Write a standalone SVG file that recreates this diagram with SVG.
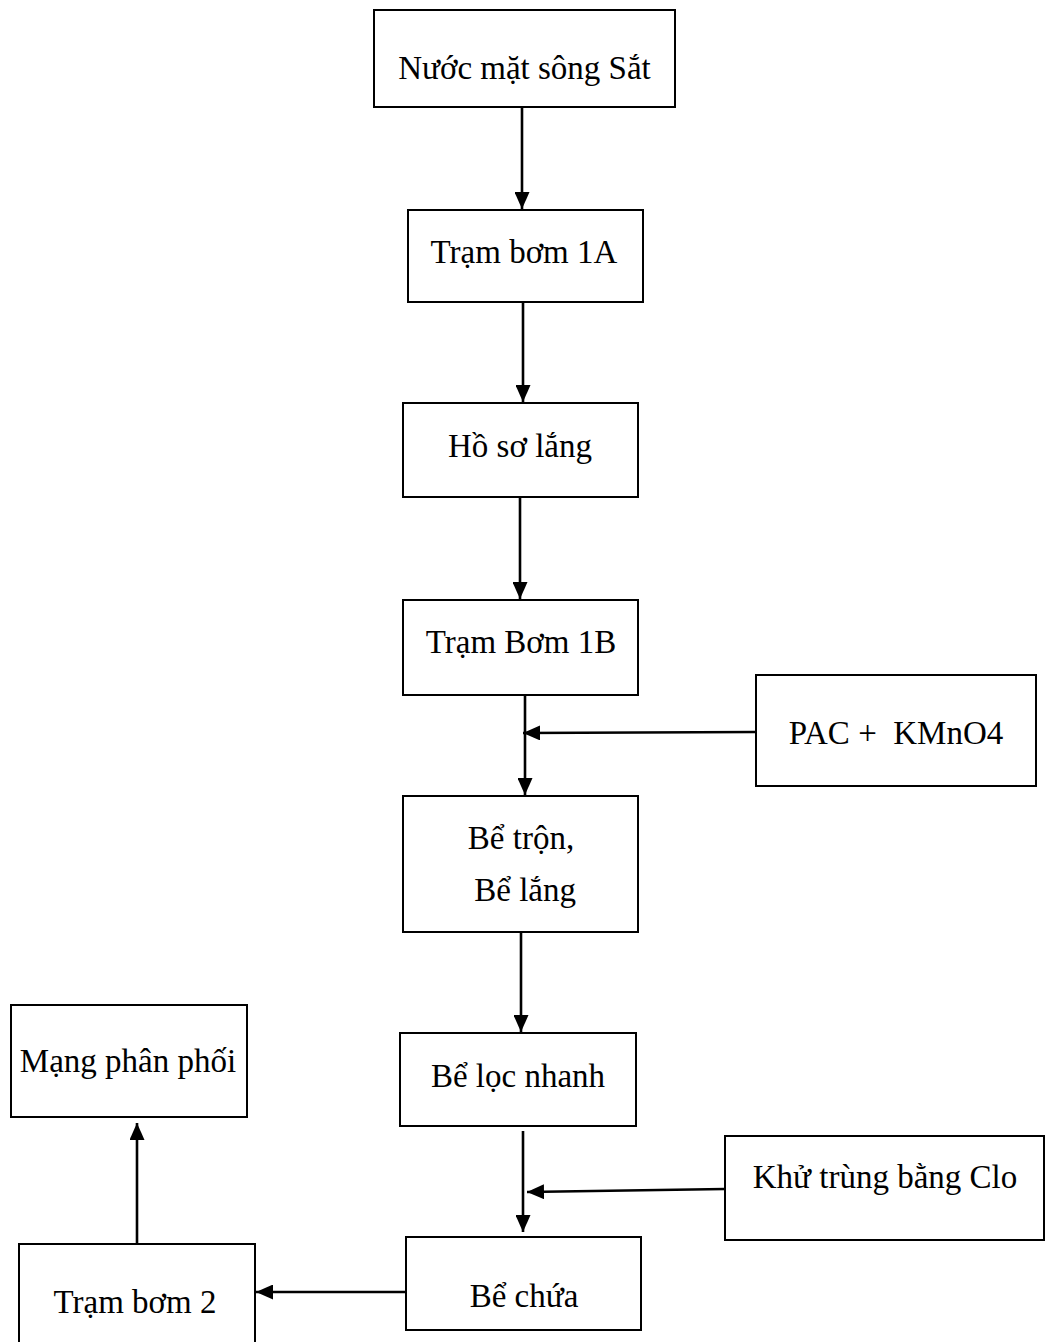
<svg xmlns="http://www.w3.org/2000/svg" width="1048" height="1342" viewBox="0 0 1048 1342">
<style>
.box{fill:#fff;stroke:#000;stroke-width:2}
.lbl{font-family:"Liberation Serif","Times New Roman",serif;font-size:33px;fill:#000;text-anchor:middle;white-space:pre}
.con{stroke:#000;stroke-width:2.6;fill:none;marker-end:url(#ah)}
</style>
<defs>
<marker id="ah" markerUnits="userSpaceOnUse" markerWidth="17" markerHeight="15" refX="17" refY="7.5" orient="auto">
<path d="M0,0 L17,7.5 L0,15 z" fill="#000"/>
</marker>
</defs>
<rect width="1048" height="1342" fill="#fff"/>
<g id="connectors">
<line class="con" x1="522" y1="107" x2="522" y2="209"/>
<line class="con" x1="523" y1="302" x2="523" y2="402"/>
<line class="con" x1="520" y1="497" x2="520" y2="599"/>
<line class="con" x1="525" y1="695" x2="525" y2="795"/>
<line class="con" x1="756" y1="732" x2="523" y2="733"/>
<line class="con" x1="521" y1="932" x2="521" y2="1032"/>
<line class="con" x1="523" y1="1131" x2="523" y2="1232"/>
<line class="con" x1="725" y1="1189" x2="527" y2="1192"/>
<line class="con" x1="406" y1="1292" x2="256" y2="1292"/>
<line class="con" x1="137" y1="1244" x2="137" y2="1123"/>
</g>
<g id="n1"><rect class="box" x="374" y="10" width="301" height="97"/><text class="lbl" x="524.5" y="79">Nước mặt sông Sắt</text></g>
<g id="n2"><rect class="box" x="408" y="210" width="235" height="92"/><text class="lbl" x="524" y="263">Trạm bơm 1A</text></g>
<g id="n3"><rect class="box" x="403" y="403" width="235" height="94"/><text class="lbl" x="520" y="457">Hồ sơ lắng</text></g>
<g id="n4"><rect class="box" x="403" y="600" width="235" height="95"/><text class="lbl" x="521" y="653">Trạm Bơm 1B</text></g>
<g id="n5"><rect class="box" x="756" y="675" width="280" height="111"/><text class="lbl" x="896" y="744">PAC +  KMnO4</text></g>
<g id="n6"><rect class="box" x="403" y="796" width="235" height="136"/><text class="lbl" x="521" y="849">Bể trộn,</text><text class="lbl" x="521" y="901"> Bể lắng</text></g>
<g id="n7"><rect class="box" x="400" y="1033" width="236" height="93"/><text class="lbl" x="518" y="1087">Bể lọc nhanh</text></g>
<g id="n8"><rect class="box" x="725" y="1136" width="319" height="104"/><text class="lbl" x="885" y="1188">Khử trùng bằng Clo</text></g>
<g id="n9"><rect class="box" x="406" y="1237" width="235" height="93"/><text class="lbl" x="524" y="1307">Bể chứa</text></g>
<g id="n10"><rect class="box" x="19" y="1244" width="236" height="110"/><text class="lbl" x="135" y="1313">Trạm bơm 2</text></g>
<g id="n11"><rect class="box" x="11" y="1005" width="236" height="112"/><text class="lbl" x="128" y="1072">Mạng phân phối</text></g>
</svg>
